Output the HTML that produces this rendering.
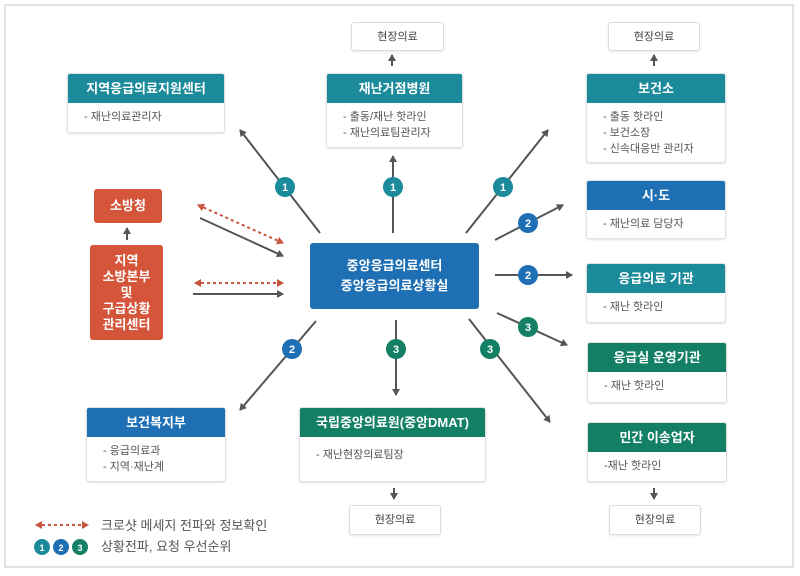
<!DOCTYPE html>
<html><head><meta charset="utf-8"><style>
body{margin:0;width:800px;height:576px;background:#fff;font-family:"Liberation Sans","Noto Sans CJK KR",sans-serif;position:relative;overflow:hidden}
.frame{position:absolute;left:4px;top:4px;width:790px;height:564px;border:2px solid #e2e2e2;box-sizing:border-box}
.box{position:absolute;background:#fff;border:1px solid #e0e0e0;border-radius:3px;box-shadow:0 1px 2px rgba(0,0,0,.12);box-sizing:border-box;overflow:hidden}
.hd{color:#fff;font-weight:bold;font-size:13px;text-align:center;height:29px;line-height:29px}
.bd{font-size:11px;color:#555;padding:6px 0 0 16px;line-height:16px}
.t{background:#1b8a9a}.b{background:#1f6fb5}.g{background:#138066}
.plain{position:absolute;border:1px solid #dcdcdc;border-radius:3px;font-size:11px;color:#444;text-align:center;line-height:28px;box-sizing:border-box;box-shadow:0 1px 2px rgba(0,0,0,.1)}
.or{position:absolute;background:#d4553a;color:#fff;font-weight:bold;font-size:13px;text-align:center;border-radius:3px}
svg{position:absolute;left:0;top:0}
</style></head><body>
<div class="frame"></div>
<div class="plain" style="left:351px;top:22px;width:93px;height:29px">현장의료</div>
<div class="plain" style="left:608px;top:22px;width:92px;height:29px">현장의료</div>
<div class="plain" style="left:349px;top:505px;width:92px;height:30px">현장의료</div>
<div class="plain" style="left:609px;top:505px;width:92px;height:30px">현장의료</div>

<div class="box" style="left:67px;top:73px;width:158px;height:60px"><div class="hd t">지역응급의료지원센터</div><div class="bd">- 재난의료관리자</div></div>
<div class="box" style="left:326px;top:73px;width:137px;height:75px"><div class="hd t">재난거점병원</div><div class="bd">- 출동/재난 핫라인<br>- 재난의료팀관리자</div></div>
<div class="box" style="left:586px;top:73px;width:140px;height:90px"><div class="hd t">보건소</div><div class="bd">- 출동 핫라인<br>- 보건소장<br>- 신속대응반 관리자</div></div>
<div class="box" style="left:586px;top:180px;width:140px;height:59px"><div class="hd b">시·도</div><div class="bd">- 재난의료 담당자</div></div>
<div class="box" style="left:586px;top:263px;width:140px;height:60px"><div class="hd t">응급의료 기관</div><div class="bd">- 재난 핫라인</div></div>
<div class="box" style="left:587px;top:342px;width:140px;height:61px"><div class="hd g">응급실 운영기관</div><div class="bd">- 재난 핫라인</div></div>
<div class="box" style="left:587px;top:422px;width:140px;height:60px"><div class="hd g">민간 이송업자</div><div class="bd">-재난 핫라인</div></div>
<div class="box" style="left:86px;top:407px;width:140px;height:75px"><div class="hd b">보건복지부</div><div class="bd">- 응급의료과<br>- 지역·재난계</div></div>
<div class="box" style="left:299px;top:407px;width:187px;height:75px"><div class="hd g">국립중앙의료원(중앙DMAT)</div><div class="bd" style="padding-top:10px">- 재난현장의료팀장</div></div>

<div style="position:absolute;left:310px;top:243px;width:169px;height:66px;background:#1f6fb5;border-radius:3px;color:#fff;font-weight:bold;font-size:13px;text-align:center;line-height:20px;padding-top:13px;box-sizing:border-box">중앙응급의료센터<br>중앙응급의료상황실</div>
<div class="or" style="left:94px;top:189px;width:68px;height:34px;line-height:34px">소방청</div>
<div class="or" style="left:90px;top:245px;width:73px;height:95px;line-height:16px;padding-top:8px;box-sizing:border-box">지역<br>소방본부<br>및<br>구급상황<br>관리센터</div>

<svg width="800" height="576">
<defs>
<marker id="a" markerWidth="8" markerHeight="8" refX="6" refY="4" orient="auto" markerUnits="userSpaceOnUse"><path d="M0,0 L7,4 L0,8 z" fill="#555"/></marker>
<marker id="r" markerWidth="8" markerHeight="8" refX="6" refY="4" orient="auto-start-reverse" markerUnits="userSpaceOnUse"><path d="M0,0 L7,4 L0,8 z" fill="#c8553d"/></marker>
</defs>
<g stroke="#555" stroke-width="2" fill="none" marker-end="url(#a)">
<line x1="320" y1="233" x2="240" y2="130"/>
<line x1="393" y1="233" x2="393" y2="156"/>
<line x1="466" y1="233" x2="548" y2="130"/>
<line x1="495" y1="240" x2="563" y2="205"/>
<line x1="495" y1="275" x2="572" y2="275"/>
<line x1="497" y1="313" x2="567" y2="345"/>
<line x1="469" y1="319" x2="550" y2="422"/>
<line x1="396" y1="320" x2="396" y2="395"/>
<line x1="316" y1="321" x2="240" y2="410"/>
<line x1="200" y1="218" x2="283" y2="256"/>
<line x1="193" y1="294" x2="283" y2="294"/>
<line x1="127" y1="240" x2="127" y2="228"/>
<line x1="392" y1="66" x2="392" y2="55"/>
<line x1="654" y1="66" x2="654" y2="55"/>
<line x1="394" y1="488" x2="394" y2="499"/>
<line x1="654" y1="488" x2="654" y2="499"/>
</g>
<g stroke="#c8553d" stroke-width="2" stroke-dasharray="3,3" fill="none" marker-start="url(#r)" marker-end="url(#r)">
<line x1="198" y1="205" x2="283" y2="243"/>
<line x1="195" y1="283" x2="283" y2="283"/>
<line x1="36" y1="525" x2="88" y2="525"/>
</g>
<g font-family="Liberation Sans,sans-serif" font-size="11" font-weight="bold" fill="#fff" text-anchor="middle">
<circle cx="285" cy="187" r="10" fill="#1b8a9a"/><text x="285" y="191">1</text>
<circle cx="393" cy="187" r="10" fill="#1b8a9a"/><text x="393" y="191">1</text>
<circle cx="503" cy="187" r="10" fill="#1b8a9a"/><text x="503" y="191">1</text>
<circle cx="528" cy="223" r="10" fill="#1f6fb5"/><text x="528" y="227">2</text>
<circle cx="528" cy="275" r="10" fill="#1f6fb5"/><text x="528" y="279">2</text>
<circle cx="528" cy="327" r="10" fill="#138066"/><text x="528" y="331">3</text>
<circle cx="490" cy="349" r="10" fill="#138066"/><text x="490" y="353">3</text>
<circle cx="396" cy="349" r="10" fill="#138066"/><text x="396" y="353">3</text>
<circle cx="292" cy="349" r="10" fill="#1f6fb5"/><text x="292" y="353">2</text>
<circle cx="42" cy="547" r="8" fill="#1b8a9a"/><text x="42" y="551" font-size="9">1</text>
<circle cx="61" cy="547" r="8" fill="#1f6fb5"/><text x="61" y="551" font-size="9">2</text>
<circle cx="80" cy="547" r="8" fill="#138066"/><text x="80" y="551" font-size="9">3</text>
</g>
<g font-family="Liberation Sans,Noto Sans CJK KR,sans-serif" font-size="13" fill="#555">
<text x="101" y="530">크로샷 메세지 전파와 정보확인</text>
<text x="101" y="551">상황전파, 요청 우선순위</text>
</g>
</svg>
</body></html>
